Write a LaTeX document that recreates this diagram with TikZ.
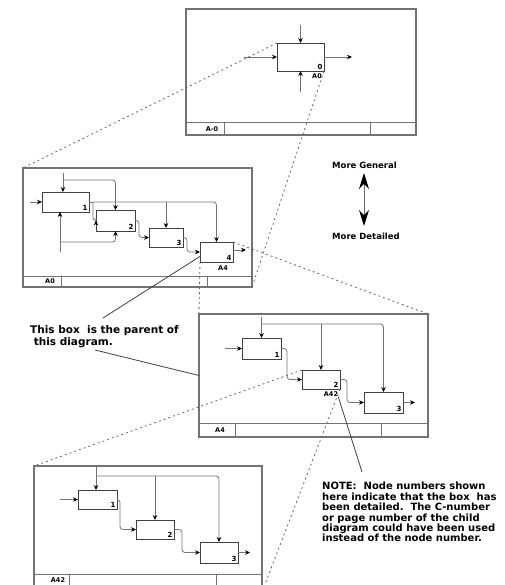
\documentclass[tikz,border=0pt]{standalone}
\usepackage{fontspec}
\setmainfont{DejaVu Sans}
\usetikzlibrary{arrows.meta}
\begin{document}
\begin{tikzpicture}[x=1pt,y=-1pt,
  frame/.style={draw=black!55,line width=1.5pt,inner sep=0pt,outer sep=0pt},
  fbox/.style={draw=black!75,line width=0.9pt,inner sep=0pt,outer sep=0pt},
  strip/.style={draw=black!55,line width=1pt},
  conn/.style={draw=black!55,line width=0.8pt,rounded corners=3pt},
  arr/.style={conn,-{Stealth[length=5pt,width=4.5pt,color=black]}},
  dashln/.style={draw=black!60,line width=0.8pt,dash pattern=on 2pt off 3pt},
  lead/.style={draw=black!75,line width=0.8pt},
  num/.style={font=\bfseries\fontsize{7}{7}\selectfont,inner sep=1.2pt},
  ref/.style={font=\bfseries\fontsize{6.5}{6.5}\selectfont,inner sep=0pt},
  txt/.style={font=\bfseries\fontsize{10.5}{12.5}\selectfont,align=left,inner sep=0pt},
]
\useasboundingbox (0,0) rectangle (504,585);

% ---------- frames ----------
\node[frame,minimum width=230pt,minimum height=126pt] (F0) at (301,72) {};
\node[frame,minimum width=229pt,minimum height=119pt] (FA0) at (137.5,227.5) {};
\node[frame,minimum width=229pt,minimum height=123pt] (FA4) at (313.5,375.5) {};
\node[frame,minimum width=228pt,minimum height=126pt] (FA42) at (148,529) {};

% strips
\draw[strip] (186,123) -- (416,123) (224,123) -- (224,135) (370,123) -- (370,135);
\node[ref] (lF0) at (212,129) {A-0};
\draw[strip] (23,276) -- (252,276) (61,276) -- (61,287) (207,276) -- (207,287);
\node[ref] (lFA0) at (50,281.5) {A0};
\draw[strip] (199,423) -- (428,423) (235,423) -- (235,437) (381,423) -- (381,437);
\node[ref] (lFA4) at (220,430) {A4};
\draw[strip] (34,574) -- (262,574) (69,574) -- (69,592) (216,574) -- (216,592);
\node[ref] (lFA42) at (58,580) {A42};

% ---------- A-0 diagram ----------
\node[fbox,minimum width=47pt,minimum height=28pt] (t0) at (300.5,57) {};
\node[num,anchor=south east] (t0n) at (t0.south east) {0};
\node[ref] (t0r) at (317,76) {A0};
\coordinate (t0i) at (244,57);
\coordinate (t0c) at (300.5,25);
\coordinate (t0m) at (300.5,92);
\coordinate (t0o) at (352,57);
\draw[arr] (t0i) -- (t0.west);
\draw[arr] (t0c) -- (t0.north);
\draw[arr] (t0m) -- (t0.south);
\draw[arr] (t0.east) -- (t0o);

% ---------- A0 diagram ----------
\node[fbox,minimum width=47pt,minimum height=20pt] (a1) at (65.5,202) {};
\node[fbox,minimum width=39pt,minimum height=21pt] (a2) at (115.5,220.5) {};
\node[fbox,minimum width=34pt,minimum height=19pt] (a3) at (166,237.5) {};
\node[fbox,minimum width=33pt,minimum height=20pt] (a4) at (216.5,252) {};
\node[num,anchor=south east] (a1n) at (a1.south east) {1};
\node[num,anchor=south east] (a2n) at (a2.south east) {2};
\node[num,anchor=south east] (a3n) at (a3.south east) {3};
\node[num,anchor=south east] (a4n) at (a4.south east) {4};
\node[ref] (a4r) at (223,268) {A4};

\coordinate (a1i) at (30,202);
\coordinate (a1c) at (63,173);
\coordinate (j1) at (63,180);
\coordinate (a1m) at (60,252);
\coordinate (j3) at (60,242);
\coordinate (j2) at (93,202);
\coordinate (a4o) at (246,250);
\draw[arr] (a1i) -- (a1.west);
\draw[arr] (a1c) -- (a1c |- a1.north);
\draw[arr] (j1) -| (a2.north);
\draw[arr] (a1m) -- (a1m |- a1.south);
\draw[arr] (j3) -| (a2.south);
\draw[conn] (a1.east) -- (j2);
\draw[arr] (j2) |- (a2.west);
\draw[arr] (j2) -| (a4.north);
\draw[arr] (j2 -| a3.north) -- (a3.north);
\draw[arr] (a2.east) -- ++(4,0) |- (a3.west);
\draw[arr] (a3.east) -- ++(4,0) |- (a4.west);
\draw[arr] (a4.east |- a4o) -- (a4o);

% ---------- A4 diagram ----------
\node[fbox,minimum width=39pt,minimum height=21pt] (b1) at (261.5,348.5) {};
\node[fbox,minimum width=38pt,minimum height=19pt] (b2) at (321,379.5) {};
\node[fbox,minimum width=39pt,minimum height=21pt] (b3) at (383.5,402.5) {};
\node[num,anchor=south east] (b1n) at (b1.south east) {1};
\node[num,anchor=south east] (b2n) at (b2.south east) {2};
\node[num,anchor=south east] (b3n) at (b3.south east) {3};
\node[ref] (b2r) at (331,394) {A42};

\coordinate (b1c) at (261.5,317);
\coordinate (k1) at (261.5,324);
\coordinate (b1i) at (225,348.5);
\coordinate (b3o) at (415,402.5);
\draw[arr] (b1c) -- (b1.north);
\draw[arr] (k1) -| (b3.north);
\draw[arr] (k1 -| b2.north) -- (b2.north);
\draw[arr] (b1i) -- (b1.west);
\draw[arr] (b1.east) -- ++(6,0) |- (b2.west);
\draw[arr] (b2.east) -- ++(7,0) |- (b3.west);
\draw[arr] (b3.east) -- (b3o);

% ---------- A42 diagram ----------
\node[fbox,minimum width=39pt,minimum height=19pt] (c1) at (97.5,499.5) {};
\node[fbox,minimum width=38pt,minimum height=19pt] (c2) at (155,529.5) {};
\node[fbox,minimum width=38pt,minimum height=21pt] (c3) at (219,552.5) {};
\node[num,anchor=south east] (c1n) at (c1.south east) {1};
\node[num,anchor=south east] (c2n) at (c2.south east) {2};
\node[num,anchor=south east] (c3n) at (c3.south east) {3};

\coordinate (c1c) at (96,467);
\coordinate (m1) at (96,476);
\coordinate (c1i) at (60,499.5);
\coordinate (c3o) at (250,552.5);
\draw[arr] (c1c) -- (c1c |- c1.north);
\draw[arr] (m1) -| (c3.north);
\draw[arr] (m1 -| c2.north) -- (c2.north);
\draw[arr] (c1i) -- (c1.west);
\draw[arr] (c1.east) -- ++(3,0) |- (c2.west);
\draw[arr] (c2.east) -- ++(8,0) |- (c3.west);
\draw[arr] (c3.east) -- (c3o);

% ---------- dashed links ----------
\draw[dashln] (t0.north west) -- (FA0.north west);
\draw[dashln] (t0.south east) -- (FA0.south east);
\draw[dashln] (a4.south west) -- (FA4.north west);
\draw[dashln] (a4.north east) -- (FA4.north east);
\draw[dashln] (b2.north west) -- (FA42.north west);
\draw[dashln] (b2.south east) -- (FA42.south east);

% ---------- notes ----------
\node[txt,anchor=north west] (parent) at (30,325) {This box\ \ is the parent of\\\ this diagram.};
\coordinate (p1) at (103,318);
\coordinate (p2) at (95,350);
\draw[lead] (p1) -- (a4.195);
\draw[lead] (p2) -- (FA4.west);

\node[txt,anchor=north west,font=\bfseries\fontsize{10}{10.4}\selectfont] (note) at (322,482)
 {NOTE:\ \ Node numbers shown\\here indicate that the box\ \ has\\been detailed.\ \ The C-number\\or page number of the child\\diagram could have been used\\instead of the node number.};
\coordinate (n1) at (362,472);
\draw[lead] (b2r.south east) -- (n1);

\node[font=\bfseries\fontsize{8.5}{8.5}\selectfont,anchor=west,inner sep=0pt] (mg) at (332,165) {More General};
\node[font=\bfseries\fontsize{8.5}{8.5}\selectfont,anchor=west,inner sep=0pt] (md) at (332,236) {More Detailed};
\coordinate (ga) at (364,173);
\coordinate (gb) at (364,226);
\draw[draw=black!60,line width=1pt,{Stealth[length=16pt,width=10pt,color=black]}-{Stealth[length=16pt,width=10pt,color=black]}] (ga) -- (gb);
\end{tikzpicture}
\end{document}
